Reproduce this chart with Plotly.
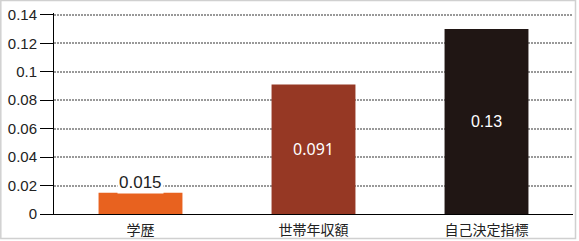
import plotly.graph_objects as go

categories = ["学歴", "世帯年収額", "自己決定指標"]
values = [0.015, 0.091, 0.13]
bar_colors = ["#E8621F", "#963824", "#201614"]
label_colors = ["#222222", "#FFFFFF", "#FFFFFF"]
label_fonts = ["Liberation Sans", "Noto Sans", "Liberation Sans"]
y_ticks = [0, 0.02, 0.04, 0.06, 0.08, 0.1, 0.12, 0.14]
y_tick_text = ["0", "0.02", "0.04", "0.06", "0.08", "0.1", "0.12", "0.14"]

W, H = 579, 241
ML, MR, MT, MB = 54, 6, 13, 27
PW, PH = W - ML - MR, H - MT - MB

fig = go.Figure()
fig.add_trace(go.Bar(
    x=categories,
    y=values,
    marker=dict(color=bar_colors, line=dict(width=0)),
    text=[f"{v:g}" for v in values],
    textposition=["none", "inside", "inside"],
    insidetextanchor="middle",
    textfont=dict(color=label_colors, family=label_fonts, size=16),
    cliponaxis=False,
    width=0.485,
))

# value label sitting above the short bar, with a white backing that breaks the grid line
fig.add_annotation(
    x=categories[0], y=values[0], text=f"{values[0]:g}",
    yanchor="bottom", yshift=-1, showarrow=False,
    font=dict(family="Liberation Sans", size=17, color="#222222"),
    bgcolor="white", borderpad=1,
)

# light frame around the whole picture
fig.add_shape(
    type="rect", xref="paper", yref="paper",
    x0=(-ML + 0.8) / PW, x1=1 + (MR - 3.5) / PW,
    y0=-(MB - 2.5) / PH, y1=1 + (MT - 0.5) / PH,
    line=dict(color="#d0d0d0", width=1.5), layer="below",
)

fig.update_layout(
    width=W, height=H,
    margin=dict(l=ML, r=MR, t=MT, b=MB, autoexpand=False),
    paper_bgcolor="white", plot_bgcolor="white",
    showlegend=False,
    xaxis=dict(
        automargin=False,
        showline=True, linecolor="black", linewidth=1,
        ticks="outside", ticklen=3, tickcolor="rgba(0,0,0,0)",
        tickfont=dict(family="Noto Sans CJK JP", size=14, color="#222222"),
        showgrid=False, range=[-0.5, 2.5],
    ),
    yaxis=dict(
        automargin=False,
        range=[0, 0.1413], tickvals=y_ticks, ticktext=y_tick_text,
        showline=True, linecolor="black", linewidth=1,
        ticks="outside", ticklen=13, tickcolor="black", tickwidth=1,
        tickfont=dict(family="Liberation Sans", size=15, color="#222222"),
        showgrid=True, gridcolor="#999999", gridwidth=2, griddash="2px,1px",
        zeroline=False,
    ),
)

fig.write_html("out.html")
